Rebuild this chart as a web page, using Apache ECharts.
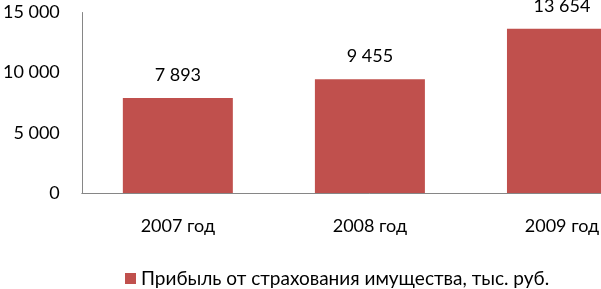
<!DOCTYPE html>
<html><head><meta charset="utf-8">
<script src="https://cdn.jsdelivr.net/npm/echarts@6/dist/echarts.min.js"></script>
<style>html,body{margin:0;padding:0;background:#fff;overflow:hidden}#c{width:658px;height:289px}</style>
</head><body><div id="c"></div>
<script>
const categories = ["2007 год", "2008 год", "2009 год"];
const values = [7893, 9455, 13654];
const seriesName = "Прибыль от страхования имущества, тыс. руб.";
const yTicks = [0, 5000, 10000, 15000];

function fmt(v){ return String(v).replace(/\B(?=(\d{3})+(?!\d))/g, " "); }
const FONT = "Lato";
const FS = 18;
const chart = echarts.init(document.getElementById('c'), null, {renderer:'canvas'});
chart.setOption({
  animation:false,
  grid:{left:79, right:0, top:12.5, bottom:96, containLabel:false},
  legend:{
    top:264, left:120, itemWidth:11, itemHeight:11, itemGap:4,
    icon:'rect',
    textStyle:{fontFamily:FONT, fontSize:19, color:'#000'},
    data:[seriesName]
  },
  xAxis:{
    type:'category', data:categories,
    axisLine:{lineStyle:{color:'#868686', width:1}},
    axisTick:{show:false},
    axisLabel:{fontFamily:FONT, fontSize:FS, color:'#000', margin:24}
  },
  yAxis:{
    type:'value', min:yTicks[0], max:yTicks[yTicks.length-1], interval:5000,
    axisLine:{show:true, lineStyle:{color:'#868686', width:1}},
    axisTick:{show:false},
    splitLine:{show:false},
    axisLabel:{fontFamily:FONT, fontSize:FS, color:'#000', margin:22, formatter:v=>fmt(v)}
  },
  series:[{
    name:seriesName, type:'bar', data:values, barWidth:110,
    itemStyle:{color:'#C0504D'},
    label:{show:true, position:'top', distance:14, fontFamily:FONT, fontSize:FS, color:'#000', formatter:p=>fmt(p.value)}
  }]
});
</script></body></html>
